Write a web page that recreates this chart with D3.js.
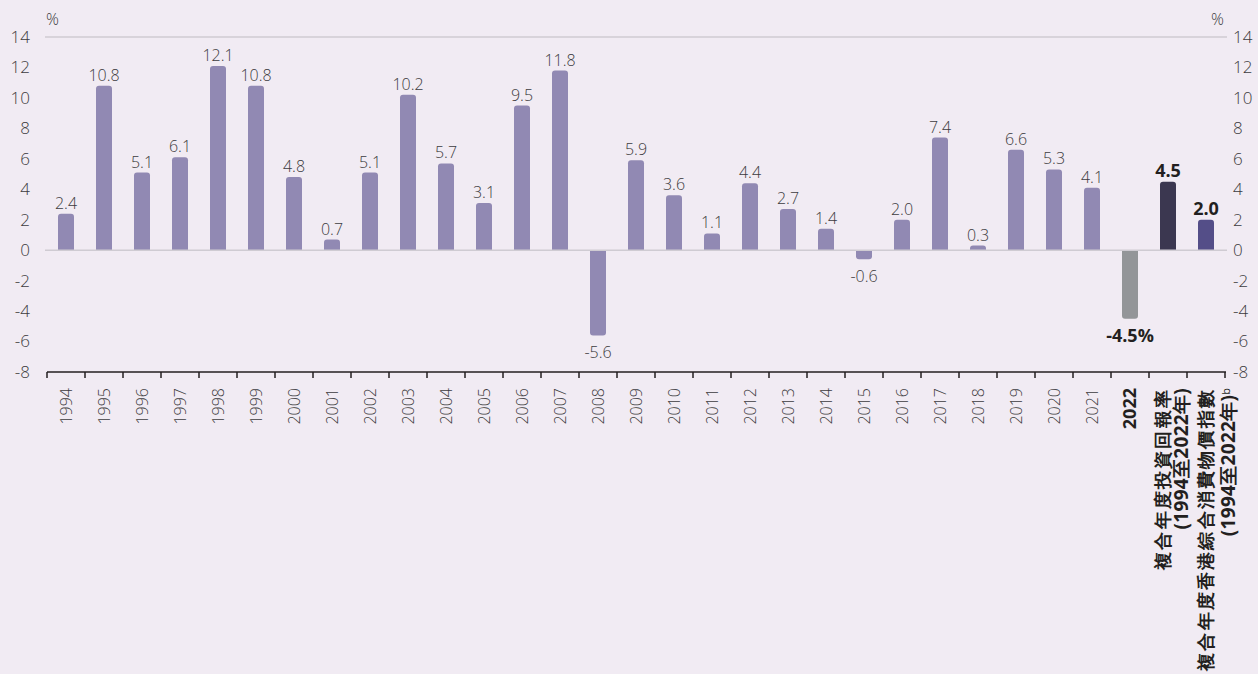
<!DOCTYPE html>
<html><head><meta charset="utf-8">
<script src="https://cdn.jsdelivr.net/npm/d3@7"></script>
<style>
html,body{margin:0;padding:0;background:#f1ebf3;}
svg{display:block;}
text{font-family:"Open Sans","Noto Sans",sans-serif;}
</style></head>
<body><svg id="c" width="1258" height="674"></svg>
<script>
const categories = ["1994","1995","1996","1997","1998","1999","2000","2001","2002","2003","2004","2005","2006","2007","2008","2009","2010","2011","2012","2013","2014","2015","2016","2017","2018","2019","2020","2021","2022","CAGR","CPI"];
const values = [2.4,10.8,5.1,6.1,12.1,10.8,4.8,0.7,5.1,10.2,5.7,3.1,9.5,11.8,-5.6,5.9,3.6,1.1,4.4,2.7,1.4,-0.6,2.0,7.4,0.3,6.6,5.3,4.1,-4.5,4.5,2.0];
const valueLabels = ["2.4","10.8","5.1","6.1","12.1","10.8","4.8","0.7","5.1","10.2","5.7","3.1","9.5","11.8","-5.6","5.9","3.6","1.1","4.4","2.7","1.4","-0.6","2.0","7.4","0.3","6.6","5.3","4.1","-4.5%","4.5","2.0"];
const yTicks = [14,12,10,8,6,4,2,0,-2,-4,-6,-8];
const specialLabels = {
  "CAGR": ["複合年度投資回報率","(1994至2022年)"],
  "CPI": ["複合年度香港綜合消費物價指數","(1994至2022年)"]
};
const boldCats = ["2022","CAGR","CPI"];
const colorMap = {"2022":"#939598","CAGR":"#3b3750","CPI":"#544e88"};
const baseColor = "#9189b3";

const svg = d3.select("#c");
const L = 47, R = 1225, T = 37, B = 372;
const x = d3.scaleBand().domain(categories).range([L, R]).paddingInner(0).paddingOuter(0);
const y = d3.scaleLinear().domain([-8, 14]).range([B, T]);
const bw = 16, rr = 3;

svg.append("line").attr("x1", L-2).attr("x2", R+2).attr("y1", y(14)).attr("y2", y(14))
  .attr("stroke", "#cfcbd2").attr("stroke-width", 1.5);

function barPath(cx, v){
  const x0 = cx - bw/2, x1 = cx + bw/2, y0 = y(0), yv = y(v);
  const h = Math.abs(y0 - yv);
  const r = Math.min(rr, h);
  if (v >= 0) {
    return `M${x0},${y0} L${x0},${yv + r} Q${x0},${yv} ${x0 + r},${yv} L${x1 - r},${yv} Q${x1},${yv} ${x1},${yv + r} L${x1},${y0} Z`;
  } else {
    return `M${x0},${y0} L${x0},${yv - r} Q${x0},${yv} ${x0 + r},${yv} L${x1 - r},${yv} Q${x1},${yv} ${x1},${yv - r} L${x1},${y0} Z`;
  }
}
svg.selectAll("path.bar").data(categories).enter().append("path")
  .attr("class","bar")
  .attr("d", (c,i) => barPath(x(c) + x.bandwidth()/2, values[i]))
  .attr("fill", c => colorMap[c] || baseColor);

svg.append("line").attr("x1", L-2).attr("x2", R+2).attr("y1", y(0)).attr("y2", y(0))
  .attr("stroke", "#cfcbd2").attr("stroke-width", 1.5);

svg.selectAll("text.val").data(categories).enter().append("text")
  .attr("class","val")
  .attr("x", c => x(c) + x.bandwidth()/2)
  .attr("y", (c,i) => values[i] >= 0 ? y(values[i]) - 5 : y(values[i]) + 23)
  .attr("text-anchor","middle")
  .attr("font-size", c => boldCats.includes(c) ? 18 : 16)
  .attr("font-weight", c => boldCats.includes(c) ? 700 : 300)
  .attr("fill", c => boldCats.includes(c) ? "#231f20" : "#3d3b40")
  .text((c,i) => valueLabels[i]);

const fmt = d => String(d);
const yl = d3.axisLeft(y).tickValues(yTicks).tickFormat(fmt).tickSize(0).tickPadding(0);
const gl = svg.append("g").attr("transform", `translate(${30},0)`).call(yl);
gl.select(".domain").remove();
gl.selectAll("text").attr("font-size", 17).attr("font-weight", 300).attr("fill", "#3d3b40")
  .attr("font-family", "Open Sans");
const yr = d3.axisRight(y).tickValues(yTicks).tickFormat(fmt).tickSize(0).tickPadding(0);
const gr = svg.append("g").attr("transform", `translate(${1233},0)`).call(yr);
gr.select(".domain").remove();
gr.selectAll("text").attr("font-size", 17).attr("font-weight", 300).attr("fill", "#3d3b40")
  .attr("font-family", "Open Sans");

svg.append("text").attr("x", 46).attr("y", 25).attr("font-size", 16).attr("font-weight", 300)
  .attr("fill", "#3d3b40").text("%");
svg.append("text").attr("x", 1224).attr("y", 25).attr("text-anchor","end").attr("font-size", 16).attr("font-weight", 300)
  .attr("fill", "#3d3b40").text("%");

const gx = svg.append("g").attr("transform", `translate(0,${B})`);
gx.append("line").attr("x1", L).attr("x2", R + 1).attr("stroke", "#231f20").attr("stroke-width", 1.5);
const edges = categories.map(c => x(c)).concat([R]);
gx.selectAll("line.tk").data(edges).enter().append("line").attr("class","tk")
  .attr("x1", d => d).attr("x2", d => d).attr("y1", 0).attr("y2", 6)
  .attr("stroke", "#231f20").attr("stroke-width", 1.5);

const lineOffsets = {"CAGR": [-6, 13], "CPI": [-1, 22]};
categories.forEach(c => {
  const cx = x(c) + x.bandwidth()/2;
  if (specialLabels[c]) {
    const lines = specialLabels[c];
    lines.forEach((ln, k) => {
      const t = svg.append("text")
        .attr("transform", `translate(${cx + lineOffsets[c][k]},388) rotate(-90)`)
        .attr("text-anchor", "end")
        .attr("dy", "0.38em")
        .attr("font-family", "'Noto Sans CJK TC','Noto Sans CJK SC',sans-serif")
        .attr("font-size", k === 0 ? 18 : 19).attr("font-weight", 700).attr("fill", "#231f20")
        .attr("letter-spacing", k === 0 ? 2.2 : 0.3);
      if (c === "CPI" && k === 1) {
        t.append("tspan").text(ln);
        t.append("tspan").attr("font-size", 11).attr("font-weight", 400).attr("dy", "-0.5em")
          .attr("font-family", "Open Sans").attr("letter-spacing", 0).text("b");
      } else {
        t.text(ln);
      }
    });
  } else {
    svg.append("text")
      .attr("transform", `translate(${cx},388) rotate(-90)`)
      .attr("text-anchor", "end")
      .attr("dy", "0.35em")
      .attr("font-size", c === "2022" ? 18 : 16)
      .attr("font-weight", c === "2022" ? 700 : 300)
      .attr("fill", c === "2022" ? "#231f20" : "#3d3b40")
      .text(c);
  }
});
</script></body></html>
